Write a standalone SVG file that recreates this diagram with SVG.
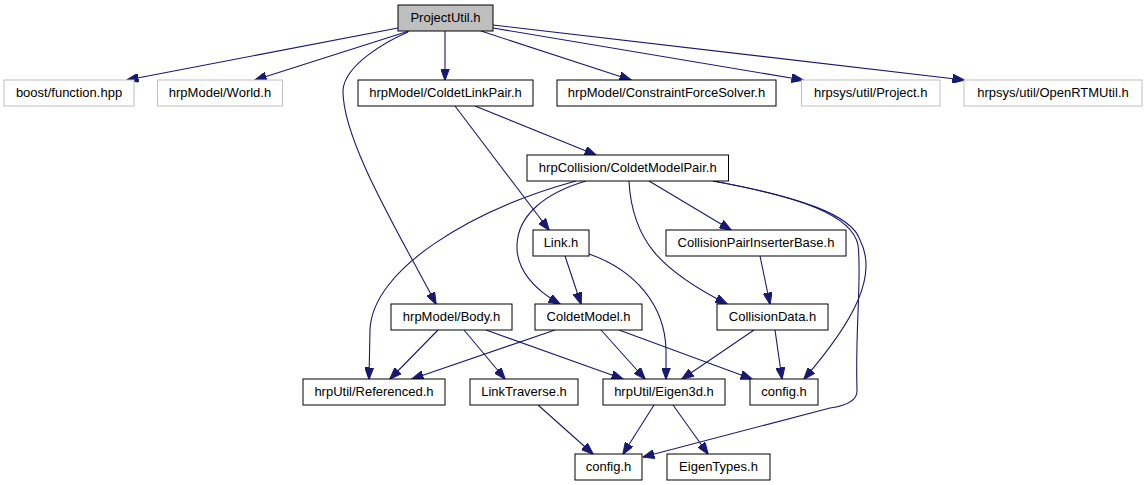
<svg xmlns="http://www.w3.org/2000/svg" width="1147" height="485" viewBox="0 0 1147 485">
<style>
.n rect{fill:#ffffff;stroke:#000000;stroke-width:1}
.g rect{fill:#ffffff;stroke:#bfbfbf;stroke-width:1}
.root rect{fill:#bfbfbf;stroke:#000000;stroke-width:1}
text{font-family:"Liberation Sans",Arial,sans-serif;font-size:13px;fill:#000000;text-anchor:middle}
#edges path{fill:none;stroke:#191970;stroke-width:1.1;marker-end:url(#arr)}
</style>
<defs>
<marker id="arr" viewBox="0 0 12 9" markerWidth="12" markerHeight="9" refX="11.5" refY="4.5" markerUnits="userSpaceOnUse" orient="auto">
<path d="M0,0 L12,4.5 L0,9 z" fill="#191970" stroke="#191970" stroke-width="1"/>
</marker>
</defs>
<rect x="0" y="0" width="1147" height="485" fill="#ffffff"/>
<g id="edges">
<path d="M398,28 L127,80"/>
<path d="M409,31 L255,80"/>
<path d="M408,32 C385,42 345,65 343,90 C342,140 400,235 436,304"/>
<path d="M445,31 L445,80"/>
<path d="M481,31 L631,80"/>
<path d="M493,28 L803,80"/>
<path d="M493,25 L964,80"/>
<path d="M475,106 L596,155"/>
<path d="M455,106 L549,230"/>
<path d="M576,181 C470,210 372,270 370,330 L369,379"/>
<path d="M586,181 C545,193 518,215 517,245 C516,270 535,290 560,304"/>
<path d="M649,181 L731,230"/>
<path d="M629,181 C632,240 660,270 727,304"/>
<path d="M713,181 C800,197 852,215 860,240 C878,275 855,320 804,379"/>
<path d="M713,181 C800,197 852,215 858,245 C862,275 855,330 857,390 Q858,404 830,408 L643,457"/>
<path d="M565,256 L581,304"/>
<path d="M589,254 C635,270 665,305 666,350 L666,379"/>
<path d="M760,256 L770,304"/>
<path d="M438,330 L390,379"/>
<path d="M464,330 L505,379"/>
<path d="M486,330 L623,379"/>
<path d="M555,330 L412,379"/>
<path d="M601,330 L645,379"/>
<path d="M619,330 L752,379"/>
<path d="M754,330 L682,379"/>
<path d="M775,330 L782,379"/>
<path d="M654,405 L623,454"/>
<path d="M673,405 L708,454"/>
<path d="M538,405 L593,454"/>
</g>
<g id="ProjectUtil" class="root"><rect x="398" y="5" width="95" height="26"/><text x="445.5" y="22">ProjectUtil.h</text></g>
<g id="boost_function" class="g"><rect x="4" y="80" width="130" height="26"/><text x="69" y="97">boost/function.hpp</text></g>
<g id="World" class="g"><rect x="157.5" y="80" width="125" height="26"/><text x="220" y="97">hrpModel/World.h</text></g>
<g id="ColdetLinkPair" class="n"><rect x="358" y="80" width="175" height="26"/><text x="445.5" y="97">hrpModel/ColdetLinkPair.h</text></g>
<g id="ConstraintForceSolver" class="n"><rect x="557" y="80" width="219" height="26"/><text x="666.5" y="97">hrpModel/ConstraintForceSolver.h</text></g>
<g id="Project" class="g"><rect x="801.5" y="80" width="138.5" height="26"/><text x="870.75" y="97">hrpsys/util/Project.h</text></g>
<g id="OpenRTMUtil" class="g"><rect x="964" y="80" width="178" height="26"/><text x="1053" y="97">hrpsys/util/OpenRTMUtil.h</text></g>
<g id="ColdetModelPair" class="n"><rect x="527" y="155" width="201.5" height="26"/><text x="627.75" y="172">hrpCollision/ColdetModelPair.h</text></g>
<g id="Link" class="n"><rect x="533" y="230" width="56" height="26"/><text x="561" y="247">Link.h</text></g>
<g id="CollisionPairInserterBase" class="n"><rect x="666" y="230" width="180" height="26"/><text x="756" y="247">CollisionPairInserterBase.h</text></g>
<g id="Body" class="n"><rect x="391" y="304" width="121" height="26"/><text x="451.5" y="321">hrpModel/Body.h</text></g>
<g id="ColdetModel" class="n"><rect x="535" y="304" width="107" height="26"/><text x="588.5" y="321">ColdetModel.h</text></g>
<g id="CollisionData" class="n"><rect x="717" y="304" width="111" height="26"/><text x="772.5" y="321">CollisionData.h</text></g>
<g id="Referenced" class="n"><rect x="303" y="379" width="142" height="26"/><text x="374" y="396">hrpUtil/Referenced.h</text></g>
<g id="LinkTraverse" class="n"><rect x="470" y="379" width="108" height="26"/><text x="524" y="396">LinkTraverse.h</text></g>
<g id="Eigen3d" class="n"><rect x="603" y="379" width="122" height="26"/><text x="664" y="396">hrpUtil/Eigen3d.h</text></g>
<g id="config_upper" class="n"><rect x="750" y="379" width="68" height="26"/><text x="784" y="396">config.h</text></g>
<g id="config_lower" class="n"><rect x="575" y="454" width="67" height="26"/><text x="608.5" y="471">config.h</text></g>
<g id="EigenTypes" class="n"><rect x="667" y="454" width="103" height="26"/><text x="718.5" y="471">EigenTypes.h</text></g>
</svg>
